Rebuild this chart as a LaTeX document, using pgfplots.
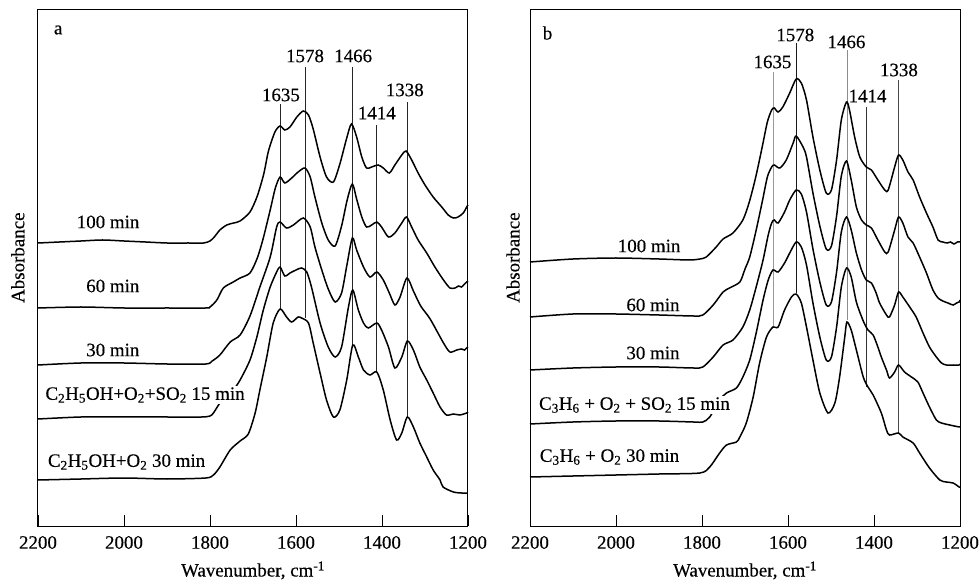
\documentclass[border=0pt]{standalone}
\usepackage{fontspec}
\setmainfont{Liberation Serif}[UprightFeatures={FakeBold=0.35}]
\usepackage{pgfplots}
\pgfplotsset{compat=1.18}
\tikzset{lab/.style={fill=white, inner sep=1bp}}
\begin{document}
\begin{tikzpicture}[font=\fontsize{19}{22}\selectfont]
\pgfplotsset{
 irstyle/.style={
  width=430bp, height=516bp, scale only axis,
  x dir=reverse, xmin=1200, xmax=2200,
  xtick={1200,1400,1600,1800,2000,2200},
  xtick pos=lower, ytick=\empty,
  tick align=inside, major tick length=11bp,
  scaled x ticks=false,
  /pgf/number format/assume math mode=true,
  /pgf/number format/set thousands separator={},
  xticklabel style={anchor=center, yshift=-16.5bp},
  xlabel={Wavenumber, cm\textsuperscript{-1}},
  xlabel style={at={(rel axis cs:0.5,0)}, anchor=base, yshift=-50.5bp},
  ylabel={Absorbance},
  axis line style={line width=1bp},
  every tick/.style={line width=0.8bp, black},
  clip=false,
 },
 spec/.style={black, line width=1.5bp, smooth, tension=0.45, mark=none},
 mk/.style={line width=0.7bp, mark=none},
}
\path[use as bounding box] (-38bp,-56bp) rectangle (941bp,526bp);

% ---------------- panel a ----------------
\begin{axis}[irstyle, ymin=0, ymax=516,
  ylabel style={at={(rel axis cs:-0.047,0.52)}, anchor=center}]
% marker lines
\addplot[mk, black!85] coordinates {(1636,217) (1636,422)};
\addplot[mk, black!85] coordinates {(1579,208) (1579,459)};
\addplot[mk, black!85] coordinates {(1468,181) (1468,459)};
\addplot[mk, black!85] coordinates {(1412,154) (1412,401)};
\addplot[mk, black!85] coordinates {(1342,109) (1342,424)};
% 100 min
\addplot[spec] coordinates {(2200,283) (2150,284) (2100,285) (2050,286) (2000,285) (1950,284) (1900,283) (1850,283) (1815,283) (1800,285) (1790,289) (1777,296) (1761,301) (1745,303) (1730,305) (1707,314) (1690,330) (1675,352) (1664,375) (1649,394) (1637,400) (1626,396) (1614,399) (1598,409) (1583,415) (1571,411) (1560,397) (1544,369) (1529,349) (1513,344) (1498,362) (1482,388) (1471,402) (1459,389) (1447,369) (1436,358) (1424,359) (1409,361) (1397,358) (1383,353) (1370,361) (1354,371) (1344,375) (1331,366) (1316,353) (1300,341) (1281,329) (1261,319) (1246,311) (1234,308) (1223,309) (1211,313) (1203,319) (1200,321)};
% 60 min
\addplot[spec] coordinates {(2200,218) (2100,219) (2000,218) (1900,218) (1810,218) (1800,219) (1784,226) (1769,238) (1746,244) (1730,248) (1707,253) (1690,268) (1676,288) (1660,316) (1648,338) (1637,349) (1626,343) (1610,348) (1595,354) (1579,358) (1567,349) (1556,329) (1540,303) (1525,286) (1509,280) (1494,300) (1481,326) (1469,342) (1459,327) (1447,309) (1436,299) (1424,301) (1412,304) (1401,299) (1385,289) (1370,293) (1354,303) (1343,309) (1331,299) (1316,286) (1296,273) (1277,259) (1257,246) (1242,238) (1230,238) (1222,240) (1215,239) (1208,242) (1203,244) (1200,245)};
% 30 min
\addplot[spec] coordinates {(2200,161) (2100,163) (2000,163) (1900,162) (1810,162) (1795,165) (1777,171) (1753,184) (1730,191) (1707,210) (1684,239) (1660,269) (1645,299) (1637,304) (1622,298) (1606,301) (1583,308) (1567,299) (1556,279) (1540,256) (1525,237) (1509,224) (1494,233) (1482,260) (1469,288) (1459,276) (1443,259) (1428,249) (1412,254) (1397,246) (1383,233) (1370,221) (1358,229) (1342,248) (1327,235) (1310,220) (1288,207) (1257,183) (1242,174) (1226,176) (1215,177) (1208,176) (1203,178) (1200,179)};
% C2H5OH+O2+SO2 15 min
\addplot[spec] coordinates {(2200,107) (2100,109) (2000,109) (1900,109) (1820,109) (1800,110) (1792,113) (1777,123) (1760,131) (1746,136) (1730,146) (1707,166) (1691,189) (1676,216) (1660,239) (1645,254) (1637,259) (1626,250) (1614,253) (1600,256) (1587,258) (1575,254) (1564,239) (1544,203) (1525,179) (1509,169) (1494,179) (1478,219) (1468,236) (1455,216) (1443,203) (1432,198) (1412,203) (1401,196) (1385,179) (1370,158) (1354,169) (1341,185) (1327,176) (1312,159) (1296,146) (1281,133) (1265,119) (1250,111) (1234,112) (1219,111) (1203,113) (1200,114)};
% C2H5OH+O2 30 min
\addplot[spec] coordinates {(2200,46) (2100,47) (2000,48) (1900,47) (1810,48) (1792,51) (1777,59) (1753,76) (1730,85) (1711,92) (1695,113) (1684,136) (1668,169) (1653,203) (1637,217) (1622,209) (1610,204) (1595,209) (1587,208) (1571,203) (1560,183) (1544,153) (1529,126) (1513,109) (1498,116) (1482,146) (1468,181) (1455,169) (1443,156) (1428,151) (1412,154) (1397,136) (1381,106) (1366,86) (1354,93) (1341,109) (1327,99) (1312,83) (1296,69) (1281,56) (1265,46) (1258,39) (1234,34) (1215,33) (1203,33) (1200,33)};
% labels
\node at (axis cs:2153,496) {a};
\node at (axis cs:1579,470) {1578};
\node at (axis cs:1467,470) {1466};
\node at (axis cs:1635,431) {1635};
\node at (axis cs:1412,413) {1414};
\node at (axis cs:1347,436) {1338};
\node[lab] at (axis cs:2037,304) {100 min};
\node[lab] at (axis cs:2026,240) {60 min};
\node[lab] at (axis cs:2026,176) {30 min};
\node[lab] at (axis cs:1951,131) {C\textsubscript{2}H\textsubscript{5}OH+O\textsubscript{2}+SO\textsubscript{2} 15 min};
\node[lab] at (axis cs:1994,64) {C\textsubscript{2}H\textsubscript{5}OH+O\textsubscript{2} 30 min};
\end{axis}

% ---------------- panel b ----------------
\begin{axis}[irstyle, at={(492bp,0bp)}, ymin=1, ymax=517,
  ylabel style={at={(rel axis cs:-0.0395,0.52)}, anchor=center}]
\addplot[mk, black!40] coordinates {(1633,200) (1633,455)};
\addplot[mk, black!90] coordinates {(1581,234) (1581,484)};
\addplot[mk, black!45] coordinates {(1463,207) (1463,477)};
\addplot[mk, black!80] coordinates {(1418,140) (1418,420)};
\addplot[mk, black!70] coordinates {(1343,94) (1343,447)};
% 100 min
\addplot[spec] coordinates {(2200,265) (2100,268) (2000,269) (1900,268) (1830,267) (1805,268) (1790,270) (1767,280) (1751,288) (1728,294) (1705,307) (1690,325) (1675,350) (1660,380) (1648,405) (1638,417) (1632,419) (1623,415) (1612,420) (1596,434) (1581,448) (1569,444) (1557,427) (1542,390) (1526,357) (1511,334) (1499,337) (1487,367) (1476,407) (1464,425) (1457,417) (1445,390) (1433,370) (1418,360) (1406,357) (1391,347) (1375,337) (1367,337) (1352,360) (1343,372) (1333,367) (1321,355) (1309,347) (1294,330) (1278,314) (1263,300) (1251,287) (1240,285) (1230,284) (1222,285) (1214,283) (1206,285) (1200,285)};
% 60 min
\addplot[spec] coordinates {(2200,210) (2100,213) (2000,213) (1900,212) (1820,211) (1798,212) (1774,222) (1751,235) (1736,239) (1712,245) (1700,258) (1689,270) (1675,295) (1660,325) (1648,350) (1638,360) (1632,362) (1619,359) (1604,367) (1588,384) (1581,391) (1565,380) (1557,370) (1542,334) (1526,301) (1511,278) (1499,281) (1487,311) (1476,351) (1464,366) (1453,347) (1441,320) (1429,307) (1418,302) (1406,299) (1391,287) (1375,275) (1367,275) (1352,297) (1343,310) (1333,304) (1321,290) (1309,284) (1294,270) (1278,254) (1263,237) (1251,229) (1240,226) (1228,224) (1216,222) (1208,224) (1202,225) (1200,227)};
% 30 min
\addplot[spec] coordinates {(2200,157) (2100,159) (2000,160) (1900,160) (1820,159) (1798,160) (1774,170) (1751,182) (1728,187) (1705,200) (1689,217) (1674,240) (1658,267) (1646,292) (1638,304) (1632,307) (1623,304) (1608,315) (1596,327) (1581,337) (1569,333) (1557,315) (1542,278) (1526,245) (1511,222) (1499,225) (1487,255) (1476,295) (1464,310) (1453,297) (1441,274) (1429,257) (1418,247) (1406,244) (1395,234) (1387,224) (1371,212) (1364,210) (1352,222) (1343,235) (1333,230) (1317,220) (1302,210) (1286,194) (1271,180) (1255,170) (1243,164) (1232,162) (1216,162) (1202,162) (1200,163)};
% C3H6+O2+SO2 15 min
\addplot[spec] coordinates {(2200,103) (2100,105) (2000,106) (1900,106) (1820,105) (1798,105) (1782,110) (1759,127) (1743,134) (1720,139) (1705,150) (1689,167) (1674,194) (1658,227) (1646,247) (1635,257) (1623,255) (1608,264) (1596,274) (1581,285) (1569,280) (1557,262) (1542,224) (1526,190) (1511,167) (1499,170) (1487,200) (1476,240) (1464,259) (1453,250) (1441,225) (1425,206) (1414,197) (1402,192) (1391,180) (1383,170) (1371,157) (1364,149) (1352,155) (1343,162) (1329,155) (1313,150) (1298,145) (1286,134) (1271,120) (1255,107) (1243,104) (1224,102) (1202,100) (1200,100)};
% C3H6+O2 30 min
\addplot[spec] coordinates {(2200,50) (2100,51) (2000,52) (1900,53) (1805,54) (1782,60) (1759,74) (1743,82) (1720,85) (1712,90) (1697,104) (1681,130) (1666,164) (1650,190) (1635,200) (1623,200) (1608,217) (1592,230) (1581,233) (1569,224) (1557,200) (1542,167) (1526,134) (1507,114) (1491,124) (1480,150) (1468,190) (1463,205) (1453,197) (1441,177) (1425,150) (1414,140) (1402,132) (1383,114) (1371,97) (1364,92) (1343,94) (1333,90) (1309,84) (1294,74) (1271,59) (1247,47) (1232,45) (1216,44) (1202,40) (1200,40)};
\node at (axis cs:2159,494) {b};
\node at (axis cs:1583,492) {1578};
\node at (axis cs:1464,485) {1466};
\node at (axis cs:1636,465) {1635};
\node at (axis cs:1342,457) {1338};
\node at (axis cs:1415,431) {1414};
\node[lab] at (axis cs:1923,281) {100 min};
\node[lab] at (axis cs:1914,222) {60 min};
\node[lab] at (axis cs:1914,174) {30 min};
\node[lab] at (axis cs:1957,122) {C\textsubscript{3}H\textsubscript{6} + O\textsubscript{2} + SO\textsubscript{2} 15 min};
\node[lab] at (axis cs:2015,70) {C\textsubscript{3}H\textsubscript{6} + O\textsubscript{2} 30 min};
\end{axis}
\end{tikzpicture}
\end{document}
